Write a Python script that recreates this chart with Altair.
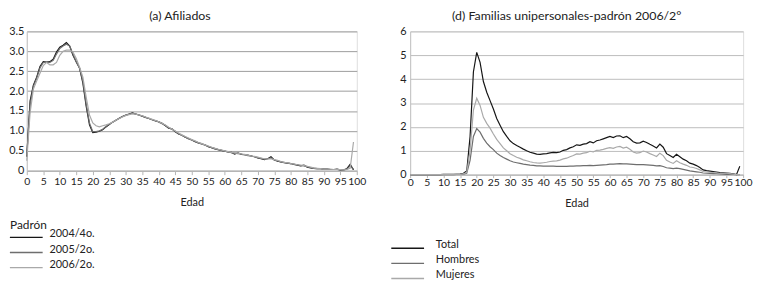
import altair as alt
import pandas as pd

FONT = "Lato"
TEXT = "#222222"

EDAD = list(range(100))

# (a) Afiliados -- three padrón series
AF_SERIES = ["2004/4o.", "2005/2o.", "2006/2o."]
AF_2004 = [0.35, 1.75, 2.15, 2.35, 2.62, 2.74, 2.73, 2.74, 2.80, 2.98,
           3.10, 3.15, 3.22, 3.13, 2.90, 2.73, 2.58, 2.20, 1.62, 1.15,
           0.96, 0.97, 0.99, 1.03, 1.10, 1.16, 1.22, 1.27, 1.32, 1.36,
           1.40, 1.42, 1.45, 1.42, 1.40, 1.37, 1.34, 1.31, 1.28, 1.25,
           1.23, 1.19, 1.13, 1.07, 1.05, 0.98, 0.92, 0.89, 0.84, 0.81,
           0.77, 0.73, 0.70, 0.67, 0.65, 0.60, 0.58, 0.55, 0.53, 0.51,
           0.49, 0.47, 0.46, 0.42, 0.45, 0.41, 0.40, 0.39, 0.37, 0.35,
           0.32, 0.30, 0.28, 0.30, 0.35, 0.27, 0.24, 0.22, 0.20, 0.19,
           0.18, 0.16, 0.14, 0.12, 0.14, 0.09, 0.07, 0.06, 0.05, 0.05,
           0.04, 0.04, 0.03, 0.03, 0.04, 0.02, 0.02, 0.05, 0.16, 0.02]
AF_2005 = [0.40, 1.65, 2.12, 2.32, 2.58, 2.72, 2.73, 2.72, 2.77, 2.93,
           3.07, 3.13, 3.18, 3.13, 2.93, 2.74, 2.57, 2.25, 1.68, 1.20,
           0.98, 0.98, 1.00, 1.04, 1.11, 1.17, 1.22, 1.27, 1.31, 1.36,
           1.39, 1.42, 1.44, 1.43, 1.40, 1.37, 1.34, 1.31, 1.28, 1.26,
           1.22, 1.18, 1.14, 1.08, 1.04, 0.99, 0.93, 0.89, 0.85, 0.80,
           0.77, 0.74, 0.70, 0.68, 0.64, 0.61, 0.58, 0.56, 0.53, 0.51,
           0.49, 0.47, 0.45, 0.44, 0.43, 0.42, 0.40, 0.38, 0.37, 0.35,
           0.33, 0.31, 0.29, 0.30, 0.32, 0.27, 0.25, 0.22, 0.21, 0.19,
           0.18, 0.16, 0.15, 0.13, 0.12, 0.10, 0.08, 0.06, 0.05, 0.05,
           0.04, 0.04, 0.03, 0.03, 0.03, 0.02, 0.02, 0.04, 0.12, 0.04]
AF_2006 = [0.25, 1.45, 2.05, 2.25, 2.45, 2.64, 2.72, 2.66, 2.66, 2.72,
           2.90, 3.00, 3.03, 3.03, 2.98, 2.82, 2.60, 2.35, 1.85, 1.40,
           1.20, 1.13, 1.10, 1.13, 1.15, 1.18, 1.22, 1.27, 1.31, 1.35,
           1.39, 1.41, 1.43, 1.42, 1.40, 1.38, 1.35, 1.32, 1.29, 1.26,
           1.23, 1.19, 1.15, 1.09, 1.05, 1.00, 0.95, 0.90, 0.86, 0.82,
           0.78, 0.75, 0.71, 0.68, 0.65, 0.62, 0.59, 0.56, 0.54, 0.52,
           0.50, 0.48, 0.46, 0.45, 0.44, 0.42, 0.41, 0.39, 0.37, 0.36,
           0.34, 0.32, 0.30, 0.29, 0.30, 0.28, 0.26, 0.23, 0.21, 0.20,
           0.18, 0.17, 0.15, 0.14, 0.13, 0.11, 0.09, 0.07, 0.06, 0.05,
           0.04, 0.04, 0.04, 0.03, 0.03, 0.03, 0.02, 0.03, 0.06, 0.72]
AF_Y_TICKS = [0, 0.5, 1.0, 1.5, 2.0, 2.5, 3.0, 3.5]

# (d) Familias unipersonales
FU_SERIES = ["Total", "Hombres", "Mujeres"]
FU_TOTAL = [0.00, 0.00, 0.00, 0.00, 0.00, 0.00, 0.00, 0.00, 0.00, 0.00,
            0.01, 0.01, 0.01, 0.01, 0.01, 0.02, 0.06, 0.15, 1.60, 4.30,
            5.12, 4.70, 3.90, 3.45, 3.10, 2.75, 2.35, 2.07, 1.80, 1.60,
            1.42, 1.30, 1.22, 1.15, 1.07, 1.00, 0.94, 0.90, 0.86, 0.85,
            0.87, 0.88, 0.91, 0.93, 0.92, 0.95, 1.02, 1.05, 1.12, 1.17,
            1.25, 1.23, 1.28, 1.30, 1.38, 1.33, 1.42, 1.45, 1.50, 1.55,
            1.60, 1.55, 1.62, 1.63, 1.55, 1.60, 1.50, 1.38, 1.32, 1.33,
            1.40, 1.35, 1.27, 1.20, 1.12, 1.28, 1.15, 0.88, 0.80, 0.72,
            0.85, 0.75, 0.65, 0.58, 0.48, 0.44, 0.38, 0.30, 0.20, 0.17,
            0.15, 0.13, 0.11, 0.09, 0.08, 0.07, 0.05, 0.03, 0.00, 0.35]
FU_HOMBRES = [0.00, 0.00, 0.00, 0.00, 0.00, 0.00, 0.00, 0.00, 0.00, 0.00,
              0.00, 0.00, 0.00, 0.00, 0.01, 0.01, 0.02, 0.06, 0.60, 1.60,
              1.93, 1.78, 1.52, 1.32, 1.17, 1.05, 0.90, 0.80, 0.72, 0.65,
              0.58, 0.53, 0.50, 0.47, 0.44, 0.42, 0.40, 0.39, 0.37, 0.37,
              0.36, 0.36, 0.36, 0.36, 0.35, 0.35, 0.35, 0.35, 0.36, 0.36,
              0.37, 0.37, 0.38, 0.38, 0.39, 0.38, 0.39, 0.40, 0.41, 0.42,
              0.44, 0.44, 0.45, 0.46, 0.45, 0.45, 0.44, 0.43, 0.42, 0.42,
              0.42, 0.41, 0.40, 0.39, 0.37, 0.38, 0.34, 0.29, 0.27, 0.25,
              0.27, 0.25, 0.22, 0.19, 0.16, 0.14, 0.12, 0.10, 0.07, 0.06,
              0.05, 0.04, 0.04, 0.03, 0.02, 0.01, 0.01, 0.01, 0.00, 0.00]
FU_MUJERES = [0.00, 0.00, 0.00, 0.00, 0.00, 0.00, 0.00, 0.00, 0.00, 0.00,
              0.00, 0.00, 0.00, 0.00, 0.01, 0.01, 0.03, 0.10, 1.00, 2.70,
              3.20, 2.90, 2.40, 2.15, 1.95, 1.70, 1.48, 1.30, 1.12, 1.00,
              0.88, 0.80, 0.73, 0.68, 0.62, 0.58, 0.54, 0.51, 0.49, 0.48,
              0.50, 0.52, 0.55, 0.57, 0.58, 0.61, 0.66, 0.69, 0.75, 0.80,
              0.87, 0.86, 0.90, 0.92, 0.98, 0.95, 1.02, 1.03, 1.06, 1.10,
              1.13, 1.10, 1.16, 1.18, 1.11, 1.15, 1.06, 0.95, 0.90, 0.92,
              0.99, 0.95, 0.88, 0.82, 0.76, 0.90, 0.80, 0.60, 0.53, 0.47,
              0.58, 0.50, 0.44, 0.39, 0.32, 0.30, 0.26, 0.20, 0.13, 0.11,
              0.10, 0.09, 0.07, 0.06, 0.06, 0.06, 0.04, 0.02, 0.00, 0.00]
FU_Y_TICKS = [0, 1, 2, 3, 4, 5, 6]

X_TICKS = list(range(0, 101, 5))
LINE_COLORS = ["#161616", "#6e6e6e", "#a9a9a9"]


def long_frame(series_names, series_values):
    rows = []
    for name, vals in zip(series_names, series_values):
        for age, v in zip(EDAD, vals):
            rows.append({"Edad": age, "valor": v, "serie": name})
    return pd.DataFrame(rows)


af_df = long_frame(AF_SERIES, [AF_2004, AF_2005, AF_2006])
fu_df = long_frame(FU_SERIES, [FU_TOTAL, FU_HOMBRES, FU_MUJERES])


def x_axis(tick_size, label_pad, title_pad):
    return alt.Axis(values=X_TICKS, title="Edad", grid=False, tickSize=tick_size,
                    tickColor="#b5b5b5", domainColor="#b5b5b5", labelPadding=label_pad,
                    labelFlush=False, labelOverlap=False, labelFontSize=10.5,
                    labelColor=TEXT, labelFont=FONT, titleFont=FONT, titleFontSize=11,
                    titleFontWeight="normal", titleColor=TEXT, titlePadding=title_pad)


def legend(title, lx, ly, label_offset):
    kw = dict(orient="none", legendX=lx, legendY=ly, symbolType="M-5,0H5",
              symbolSize=44, symbolStrokeWidth=1.3, symbolOffset=11,
              labelOffset=label_offset, labelFontSize=11, labelFont=FONT,
              labelColor=TEXT, labelBaseline="alphabetic", rowPadding=2.3)
    if title is not None:
        kw.update(title=title, titleFont=FONT, titleFontSize=12, titleFontWeight="normal",
                  titleColor=TEXT, titlePadding=0)
    else:
        kw.update(title=None)
    return alt.Legend(**kw)


left = alt.Chart(af_df).mark_line(strokeWidth=1.2).encode(
    x=alt.X("Edad:Q", scale=alt.Scale(domain=[0, 100], nice=False, zero=False),
            axis=x_axis(4, 2, 10)),
    y=alt.Y("valor:Q", scale=alt.Scale(domain=[0, 3.5], nice=False),
            axis=alt.Axis(values=AF_Y_TICKS, title=None, ticks=False, labelPadding=3,
                          labelExpr="datum.value == 0 ? '0' : format(datum.value, '.1f')",
                          gridColor="#9c9c9c", domainColor="#c4c4c4", labelFontSize=11,
                          labelColor=TEXT, labelFont=FONT, minExtent=17, maxExtent=17)),
    color=alt.Color("serie:N", scale=alt.Scale(domain=AF_SERIES, range=LINE_COLORS),
                    legend=legend("Padrón", -17, 191, 18)),
).properties(
    width=334, height=141,
    title=alt.TitleParams("(a) Afiliados", font=FONT, fontSize=12.5, fontWeight="normal",
                          color=TEXT, anchor="middle", dx=-12, offset=3),
)

right = alt.Chart(fu_df).mark_line(strokeWidth=1.2).encode(
    x=alt.X("Edad:Q", scale=alt.Scale(domain=[0, 100], nice=False, zero=False),
            axis=x_axis(3, 0, 10)),
    y=alt.Y("valor:Q", scale=alt.Scale(domain=[0, 6], nice=False),
            axis=alt.Axis(values=FU_Y_TICKS, title=None, ticks=False, labelPadding=4,
                          format="d", gridColor="#bcbcbc", domainColor="#c4c4c4",
                          labelFontSize=11, labelColor=TEXT, labelFont=FONT)),
    color=alt.Color("serie:N", scale=alt.Scale(domain=FU_SERIES, range=LINE_COLORS),
                    legend=legend(None, -19, 214, 23)),
).properties(
    width=337, height=145,
    title=alt.TitleParams("(d) Familias unipersonales-padrón 2006/2°", font=FONT,
                          fontSize=12.5, fontWeight="normal", color=TEXT,
                          anchor="middle", dx=-10, offset=3),
)

chart = alt.hconcat(left, right, spacing=54, bounds="flush").resolve_scale(
    color="independent", x="independent", y="independent"
).properties(
    padding={"left": 0, "top": 0, "right": 0, "bottom": 0}
).configure_view(stroke=None).configure(font=FONT)

chart.save("out.html", embed_options={"renderer": "svg", "actions": False})
